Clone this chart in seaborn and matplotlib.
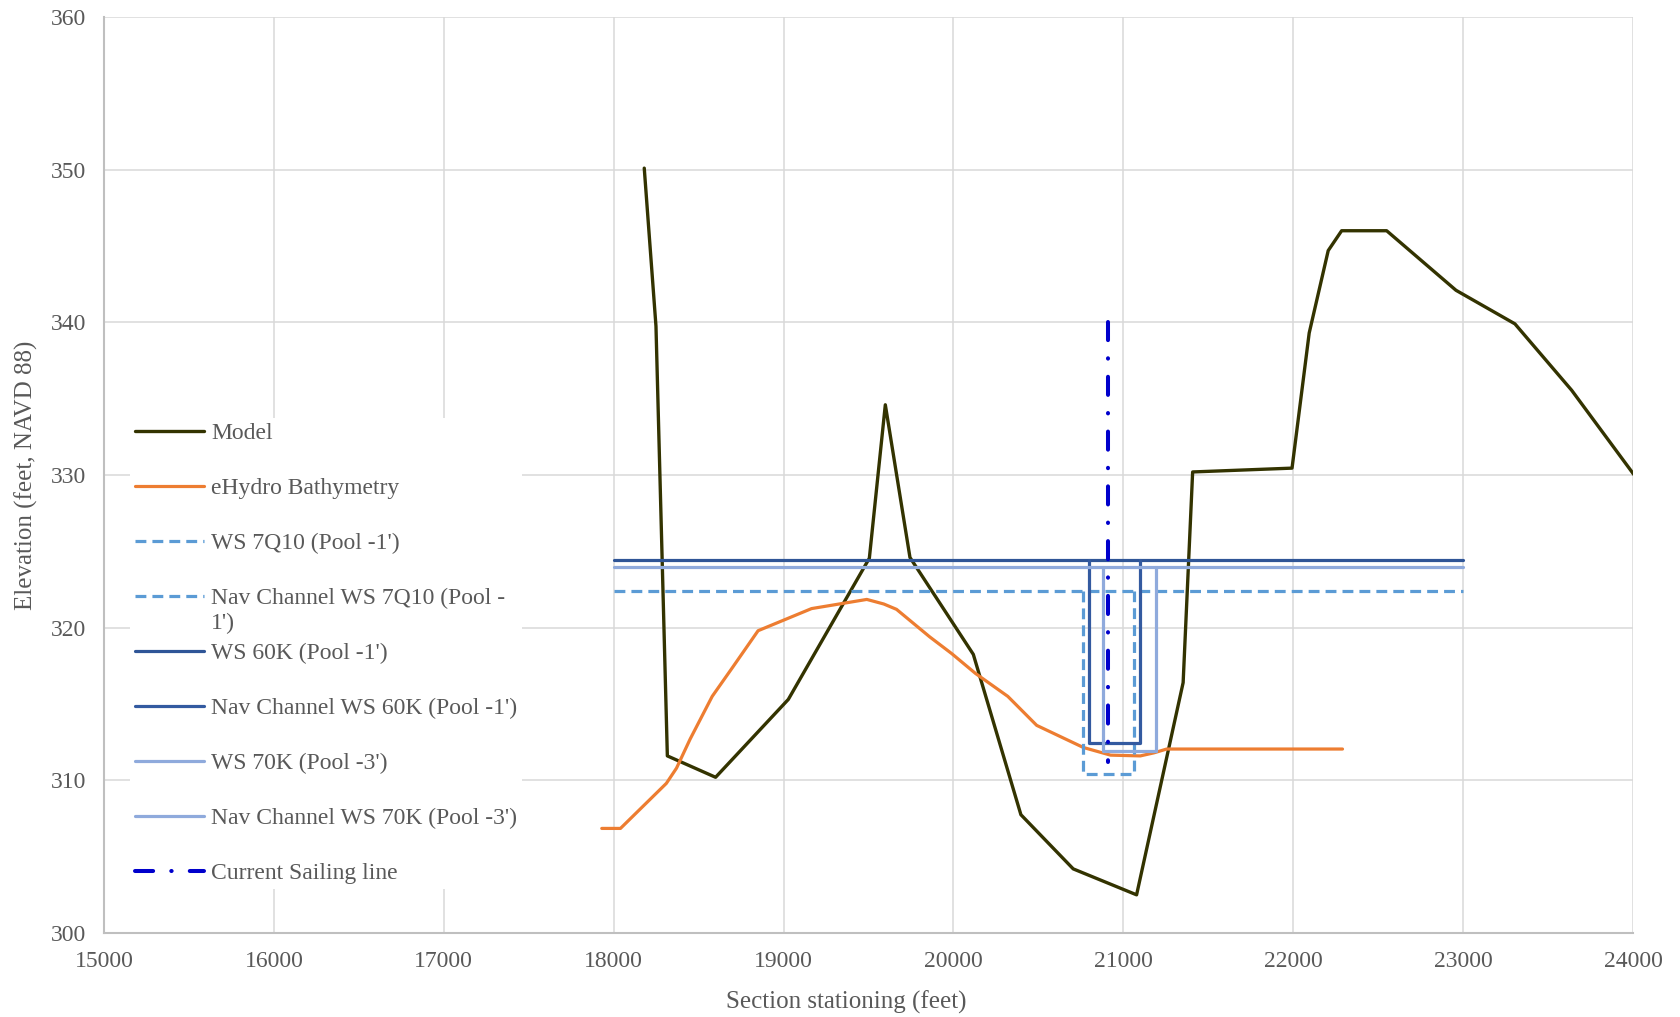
import matplotlib
matplotlib.use("Agg")
import matplotlib.pyplot as plt
import seaborn as sns

# cross section data (station in feet, elevation in feet NAVD 88)
model_x = [18180, 18249, 18316, 18600, 19028, 19505, 19599, 19744, 20117, 20397, 20705,
           21078, 21352, 21408, 21993, 22094, 22206, 22285, 22550, 22958, 23305, 23639, 24005]
model_y = [350.1, 339.75, 311.6, 310.2, 315.3, 324.55, 334.6, 324.6, 318.25, 307.75, 304.2,
           302.5, 316.4, 330.2, 330.45, 339.3, 344.7, 346.0, 346.0, 342.1, 339.9, 335.55, 330.03]

ehydro_x = [17930, 18040, 18310, 18370, 18450, 18580, 18700, 18850, 19165, 19490, 19590,
            19665, 19860, 19990, 20130, 20320, 20490, 20765, 20925, 21100, 21180,
            21255, 22290]
ehydro_y = [306.85, 306.85, 309.8, 310.8, 312.7, 315.5, 317.4, 319.8, 321.25, 321.85, 321.55,
            321.2, 319.4, 318.3, 317.0, 315.5, 313.6, 312.15, 311.65, 311.6, 311.8,
            312.05, 312.05]

ws_x = [18000, 23000]
ws_7q10 = 322.4
ws_60k = 324.45
ws_70k = 323.95

nav_7q10_x = [20760, 20760, 21060, 21060]
nav_7q10_y = [ws_7q10, 310.43, 310.43, ws_7q10]
nav_60k_x = [20800, 20800, 21100, 21100]
nav_60k_y = [ws_60k, 312.45, 312.45, ws_60k]
nav_70k_x = [20880, 20880, 21190, 21190]
nav_70k_y = [ws_70k, 311.9, 311.9, ws_70k]

sail_x = [20910, 20910]
sail_y = [340, 311.2]

x_ticks = list(range(15000, 24001, 1000))
y_ticks = list(range(300, 361, 10))

sns.set_theme(style="whitegrid")
plt.rcParams["font.family"] = ["Liberation Serif", "DejaVu Serif"]
grey = "#595959"

fig = plt.figure(figsize=(16.8, 10.17), dpi=100)
ax = fig.add_axes([104 / 1680, 1 - 933 / 1017, 1529 / 1680, 916 / 1017])

lw = 2.3
dash = (0, (3.4, 1.9))
sns.lineplot(x=model_x, y=model_y, sort=False, estimator=None, ax=ax,
             color="#333300", lw=2.4, label="Model")
sns.lineplot(x=ehydro_x, y=ehydro_y, sort=False, estimator=None, ax=ax,
             color="#ED7D31", lw=lw, label="eHydro Bathymetry")
sns.lineplot(x=ws_x, y=[ws_7q10] * 2, sort=False, estimator=None, ax=ax,
             color="#5B9BD5", lw=lw, linestyle=dash, label="WS 7Q10 (Pool -1')")
sns.lineplot(x=nav_7q10_x, y=nav_7q10_y, sort=False, estimator=None, ax=ax,
             color="#5B9BD5", lw=lw, linestyle=dash, label="Nav Channel WS 7Q10 (Pool -")
sns.lineplot(x=ws_x, y=[ws_60k] * 2, sort=False, estimator=None, ax=ax,
             color="#2F5597", lw=lw, label="WS 60K (Pool -1')")
sns.lineplot(x=nav_60k_x, y=nav_60k_y, sort=False, estimator=None, ax=ax,
             color="#335AA0", lw=lw, label="Nav Channel WS 60K (Pool -1')")
sns.lineplot(x=ws_x, y=[ws_70k] * 2, sort=False, estimator=None, ax=ax,
             color="#8FAADC", lw=lw, label="WS 70K (Pool -3')")
sns.lineplot(x=nav_70k_x, y=nav_70k_y, sort=False, estimator=None, ax=ax,
             color="#8FAADC", lw=lw, label="Nav Channel WS 70K (Pool -3')")
sns.lineplot(x=sail_x, y=sail_y, sort=False, estimator=None, ax=ax,
             color="#0000CC", lw=2.9, linestyle=(0, (4.5, 4.5, 0.1, 4.5)),
             dash_capstyle="round", label="Current Sailing line")

ax.set_xlim(15000, 24000)
ax.set_ylim(300, 360)
ax.set_xticks(x_ticks)
ax.set_yticks(y_ticks)
ax.grid(True, color="#D9D9D9", lw=1.1)
ax.tick_params(axis="both", length=0, labelsize=17, labelcolor=grey)
ax.tick_params(axis="x", pad=13)
ax.tick_params(axis="y", pad=13)
for side in ["top", "right"]:
    ax.spines[side].set_visible(False)
for side in ["left", "bottom"]:
    ax.spines[side].set_color("#BFBFBF")
    ax.spines[side].set_linewidth(1.5)

ax.set_xlabel("Section stationing (feet)", fontsize=18, color=grey)
ax.set_ylabel("Elevation (feet, NAVD 88)", fontsize=18, color=grey)
ax.xaxis.set_label_coords(0.4855, -0.0625)
ax.yaxis.set_label_coords(-0.043, 0.5)

leg = ax.legend(loc="upper left", bbox_to_anchor=(0.0169, 0.5625), borderaxespad=0,
                fontsize=17, labelcolor=grey, frameon=True, facecolor="white",
                edgecolor="none", framealpha=1, fancybox=False, handlelength=2.95,
                handletextpad=0.3, labelspacing=1.42, borderpad=0.2)
# Excel wraps this legend entry onto a second line
ax.annotate("1')", xy=(0, 0.5), xycoords=leg.get_texts()[3], xytext=(0, -18),
            textcoords="offset points", ha="left", va="center", fontsize=17,
            color=grey, zorder=10)

fig.savefig("out.png", dpi=100)
